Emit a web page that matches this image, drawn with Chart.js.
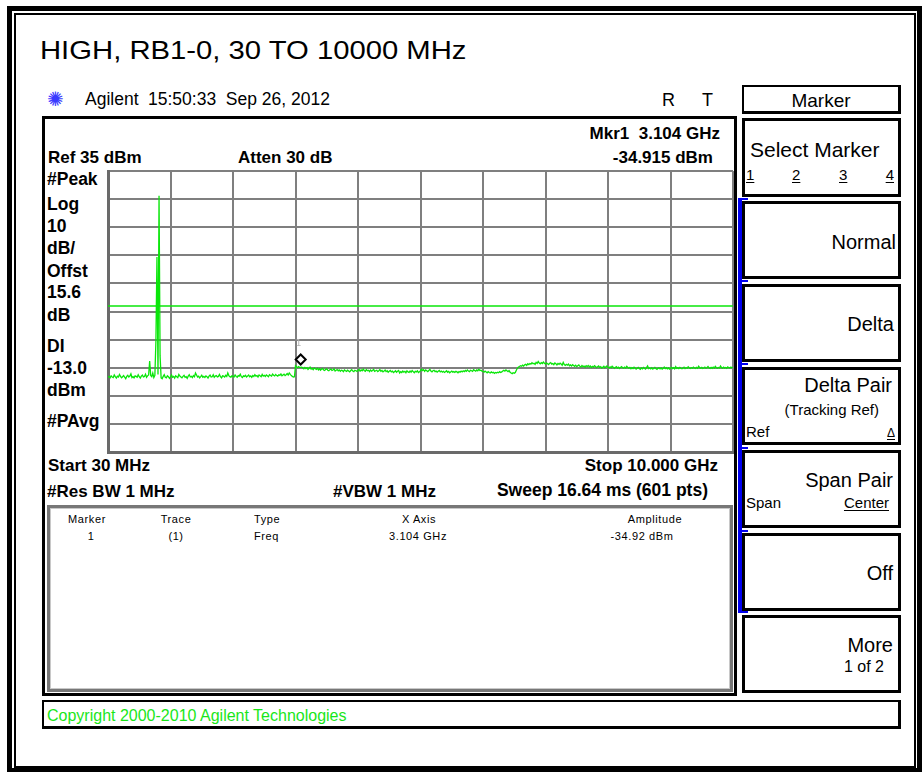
<!DOCTYPE html>
<html>
<head>
<meta charset="utf-8">
<title>HIGH, RB1-0, 30 TO 10000 MHz</title>
<script src="https://cdn.jsdelivr.net/npm/chart.js@4.4.1/dist/chart.umd.min.js"></script>
<style>
  html, body { margin: 0; padding: 0; background: #fff; }
  body { width: 922px; height: 772px; position: relative; overflow: hidden;
         font-family: "Liberation Sans", Arial, sans-serif; color: #000; }
  .box { position: absolute; box-sizing: border-box; }
  .txt { position: absolute; white-space: nowrap; line-height: 1; }
  #frameOuter { left: 7px; top: 6px; width: 915px; height: 766px; border: 5px solid #000; border-bottom-width: 4px; }
  #frameInner { left: 14px; top: 13px; width: 902px; height: 755px; border: 2px solid #000; }
  #screen { left: 42px; top: 116px; width: 695px; height: 580px; border: 3px solid #000; }
  #table { left: 47px; top: 505px; width: 686px; height: 187px; border: 3px solid #777; box-shadow: inset 0 0 0 1px #c8c8c8; }
  #copy { left: 42px; top: 700px; width: 859px; height: 29px; border: 2px solid #000; border-right-width: 3px; border-bottom-width: 3px; }
  .key { left: 742px; width: 159px; border: 3px solid #000; }
  #blueBar { left: 738px; top: 198px; width: 4px; height: 414px; background: #0000f0; }
  .stub { left: 738px; width: 10px; height: 2px; background: #0000f0; }
  #plot { position: absolute; left: 104px; top: 167px; }
  u { text-decoration-thickness: 1px; text-underline-offset: 2px; }
</style>
</head>
<body>
<div class="box" id="frameOuter"></div>
<div class="box" id="frameInner"></div>
<div class="box" id="screen"></div>
<div class="box" id="table"></div>
<div class="box" id="copy"></div>
<div class="box key" style="top:85px;height:29px;border-width:2px 3px 3px 2px"></div>
<div class="box key" style="top:118px;height:79px"></div>
<div class="box key" style="top:201px;height:78px"></div>
<div class="box key" style="top:284px;height:78px"></div>
<div class="box key" style="top:367px;height:78px"></div>
<div class="box key" style="top:450px;height:78px"></div>
<div class="box key" style="top:533px;height:78px"></div>
<div class="box key" style="top:615px;height:78px"></div>
<div class="box" id="blueBar"></div>
<div class="box stub" style="top:198px"></div>
<div class="box stub" style="top:280px"></div>
<div class="box stub" style="top:363px"></div>
<div class="box stub" style="top:447px"></div>
<div class="box stub" style="top:530px"></div>
<div class="box stub" style="top:611px"></div>
<canvas id="plot" width="633" height="289"></canvas>
<div id="labels"></div>

<script>
// Analyzer settings
const START_MHZ = 30;
const STOP_MHZ = 10000;
const REF_DBM = 35;
const DB_PER_DIV = 10;
const DIVISIONS = 10;
const DISPLAY_LINE_DBM = -13;
const MARKER_MHZ = 3104;
const MARKER_DBM = -34.915;

// Trace 1, 601 sweep points (dBm)
const traceDbm = [
  -38.4,-38.1,-38.6,-37.9,-38.3,-38.5,-37.6,-38.2,-38.7,-38.0,-38.3,-37.4,-38.1,-38.6,-38.2,-37.8,-38.4,-38.9,-38.1,-37.7,
  -38.3,-38.0,-37.2,-38.5,-38.2,-38.6,-37.9,-38.1,-38.4,-37.5,-38.2,-38.7,-38.0,-37.6,-38.3,-38.1,-37.3,-38.4,-37.9,-37.6,
  -32.6,-37.8,-38.2,-36.9,-38.5,-37.7,-25.5,4.4,-37.4,26.2,-30.8,-38.6,-38.9,-38.1,-37.5,-38.4,-38.6,-37.9,-38.2,-38.8,
  -38.3,-37.6,-38.4,-38.1,-38.7,-37.9,-38.2,-38.5,-37.4,-38.0,-38.3,-38.6,-38.1,-37.7,-38.4,-38.2,-38.8,-38.0,-37.5,-38.3,
  -38.1,-38.5,-37.8,-38.2,-36.9,-37.6,-38.3,-38.0,-38.6,-38.2,-37.7,-38.4,-38.1,-38.5,-37.9,-38.2,-38.7,-38.0,-37.6,-38.3,
  -38.2,-37.5,-38.4,-38.0,-37.8,-38.3,-38.1,-37.4,-38.2,-38.6,-37.9,-38.0,-38.3,-37.7,-38.1,-36.9,-37.8,-38.2,-38.4,-37.9,
  -38.0,-38.3,-37.6,-38.1,-38.4,-37.8,-38.0,-37.3,-38.2,-38.5,-37.9,-38.1,-37.7,-38.3,-38.0,-37.6,-38.2,-37.9,-38.4,-37.8,
  -38.1,-37.5,-38.0,-37.8,-38.3,-37.6,-37.9,-38.2,-37.4,-38.0,-37.7,-38.1,-37.6,-37.9,-38.2,-37.5,-37.8,-38.0,-37.3,-37.7,
  -37.9,-37.4,-37.8,-38.0,-37.5,-37.7,-37.2,-37.9,-37.6,-37.3,-37.8,-37.5,-37.1,-37.6,-36.9,-37.4,-37.8,-38.1,-38.3,-38.2,
  -34.3,-34.7,-35.0,-34.6,-34.9,-34.9,-34.8,-35.1,-35.4,-34.9,-35.3,-35.0,-35.6,-35.2,-34.8,-35.5,-35.3,-35.7,-35.1,-35.4,
  -35.6,-35.2,-35.8,-35.4,-35.9,-35.5,-35.3,-35.8,-36.0,-35.6,-35.4,-35.9,-36.1,-35.7,-35.5,-36.0,-35.8,-35.4,-36.2,-35.9,
  -35.7,-36.1,-35.8,-36.3,-35.9,-36.0,-36.4,-35.8,-36.1,-36.3,-35.9,-36.2,-36.5,-36.0,-35.7,-36.2,-36.4,-35.9,-36.1,-36.3,
  -36.0,-35.6,-36.2,-35.8,-36.1,-35.5,-36.0,-36.3,-35.7,-36.1,-35.9,-36.4,-35.8,-36.2,-36.0,-35.6,-36.3,-36.1,-35.9,-36.4,
  -36.1,-35.7,-36.3,-36.0,-36.5,-36.2,-35.8,-36.4,-36.1,-36.6,-36.3,-36.0,-36.5,-36.2,-36.7,-36.4,-36.1,-36.6,-36.3,-36.0,
  -36.9,-36.4,-36.7,-36.2,-36.6,-36.3,-36.8,-36.1,-36.5,-36.7,-36.2,-36.6,-36.0,-36.4,-36.8,-36.3,-36.5,-36.1,-36.7,-36.4,
  -36.1,-35.5,-36.0,-35.7,-36.3,-35.8,-36.1,-36.4,-36.0,-35.6,-36.2,-36.5,-36.1,-35.9,-36.4,-36.2,-36.6,-36.3,-36.0,-36.5,
  -36.2,-36.6,-36.3,-36.7,-36.4,-36.1,-36.6,-36.3,-36.8,-36.5,-36.2,-36.6,-36.4,-36.7,-36.3,-36.5,-36.8,-36.4,-36.6,-36.2,
  -36.5,-36.1,-36.4,-36.0,-36.3,-35.8,-36.2,-36.4,-35.9,-36.1,-36.3,-35.7,-36.0,-36.2,-35.8,-36.1,-35.6,-36.0,-35.9,-36.2,
  -36.3,-36.6,-36.2,-36.5,-36.8,-36.4,-36.7,-36.9,-36.5,-36.8,-36.6,-37.0,-36.7,-36.9,-36.6,-36.8,-36.4,-36.7,-36.5,-36.2,
  -35.9,-36.2,-35.8,-36.1,-36.4,-36.0,-36.6,-36.9,-37.1,-36.8,-37.0,-36.7,-35.9,-35.2,-34.8,-34.6,-34.3,-34.5,-34.1,-34.4,
  -34.0,-33.8,-34.2,-33.6,-33.9,-33.5,-33.7,-33.2,-33.6,-33.4,-33.8,-33.1,-33.5,-32.8,-33.3,-33.6,-33.2,-33.5,-33.0,-33.4,
  -33.7,-33.3,-33.6,-33.9,-33.4,-33.2,-33.7,-33.5,-33.9,-33.3,-33.6,-34.0,-33.5,-33.8,-33.4,-33.7,-34.1,-33.1,-33.9,-34.2,
  -33.8,-34.1,-33.7,-34.3,-34.0,-34.4,-33.9,-34.2,-34.5,-34.1,-34.6,-34.3,-34.0,-34.5,-34.7,-34.2,-34.6,-34.4,-34.8,-34.3,
  -34.6,-34.2,-34.7,-34.4,-34.9,-34.5,-34.8,-34.3,-34.6,-35.0,-34.7,-34.4,-34.9,-34.6,-35.1,-34.8,-34.5,-35.0,-34.7,-34.4,
  -34.9,-35.1,-34.7,-35.0,-34.5,-34.8,-35.2,-34.9,-34.6,-35.1,-34.8,-35.3,-34.9,-34.6,-35.0,-35.2,-34.8,-35.1,-34.5,-34.9,
  -35.2,-34.9,-35.4,-35.0,-35.3,-34.8,-35.1,-35.5,-35.2,-34.9,-35.3,-35.6,-35.1,-35.4,-34.9,-35.2,-35.5,-35.0,-34.4,-35.3,
  -35.1,-35.4,-35.0,-35.5,-35.2,-34.9,-35.3,-35.6,-35.2,-35.0,-35.4,-35.1,-35.5,-35.2,-34.8,-35.3,-35.0,-35.4,-35.1,-35.5,
  -35.2,-34.9,-35.3,-35.0,-35.4,-34.6,-35.2,-35.0,-35.3,-34.9,-35.2,-35.4,-35.1,-34.8,-35.3,-35.0,-35.2,-34.7,-35.1,-35.3,
  -35.0,-35.2,-34.8,-35.1,-35.3,-34.9,-35.2,-34.5,-35.0,-35.2,-34.9,-35.3,-35.1,-34.8,-35.2,-35.0,-34.6,-35.1,-35.3,-34.9,
  -35.2,-34.8,-35.1,-34.5,-35.0,-35.2,-34.9,-35.1,-34.4,-35.0,-35.2,-34.8,-35.1,-34.9,-35.2,-34.7,-35.0,-35.1,-34.8,-35.0,
  -34.9
];

const TRACE_GREEN = '#0ae60a';
const GRID_GRAY = '#7f7f7f';

// Sweep points are evenly spaced from start to stop
const sweepStep = (STOP_MHZ - START_MHZ) / (traceDbm.length - 1);
const tracePoints = traceDbm.map((v, i) => ({ x: START_MHZ + i * sweepStep, y: v }));
const bottomDbm = REF_DBM - DB_PER_DIV * DIVISIONS;
const xGrid = Array.from({ length: DIVISIONS + 1 }, (_, k) => START_MHZ + k * (STOP_MHZ - START_MHZ) / DIVISIONS);
const yGrid = Array.from({ length: DIVISIONS + 1 }, (_, k) => bottomDbm + k * DB_PER_DIV);

// Marker 1 diamond sits just above the trace point
const markerPlugin = {
    id: 'marker1',
    afterDatasetsDraw(chart) {
        const { ctx, scales: { x, y } } = chart;
        const px = x.getPixelForValue(MARKER_MHZ);
        const cy = y.getPixelForValue(MARKER_DBM) - 8;
        const s = 5;
        ctx.save();
        ctx.beginPath();
        ctx.moveTo(px, cy - s);
        ctx.lineTo(px + s, cy);
        ctx.lineTo(px, cy + s);
        ctx.lineTo(px - s, cy);
        ctx.closePath();
        ctx.fillStyle = '#fff';
        ctx.fill();
        ctx.lineWidth = 2;
        ctx.strokeStyle = '#000';
        ctx.stroke();
        ctx.fillStyle = '#b4b4b4';
        ctx.font = '9px "DejaVu Sans"';
        ctx.textAlign = 'center';
        ctx.fillText('1', px - 2, cy - s - 8);
        ctx.restore();
    }
};

const axisStyle = {
    type: 'linear',
    ticks: { display: false },
    grid: { color: GRID_GRAY, lineWidth: 2, drawTicks: false },
    border: { display: true, color: '#6a6a6a', width: 3 }
};

new Chart(document.getElementById('plot').getContext('2d'), {
    type: 'line',
    data: {
        datasets: [{
            data: tracePoints,
            borderColor: TRACE_GREEN,
            borderWidth: 1.3,
            pointRadius: 0,
            tension: 0
        }, {
            data: [{ x: START_MHZ, y: DISPLAY_LINE_DBM }, { x: STOP_MHZ, y: DISPLAY_LINE_DBM }],
            borderColor: TRACE_GREEN,
            borderWidth: 1.5,
            pointRadius: 0
        }]
    },
    options: {
        responsive: false,
        animation: false,
        layout: { padding: 4 },
        plugins: { legend: { display: false }, tooltip: { enabled: false } },
        scales: {
            x: { ...axisStyle, min: START_MHZ, max: STOP_MHZ,
                 afterBuildTicks: s => { s.ticks = xGrid.map(v => ({ value: v })); } },
            y: { ...axisStyle, min: bottomDbm, max: REF_DBM,
                 afterBuildTicks: s => { s.ticks = yGrid.map(v => ({ value: v })); } }
        }
    },
    plugins: [markerPlugin]
});

// Screen texts: [html, x, baseline, size, weight, align, color]
const texts = [
    ['HIGH, RB1-0, 30 TO 10000 MHz', 40, 59, 25, 400, 'title'],
    ['\u273A', 47, 106, 20, 400, 'left', '#3a3aff'],
    ['Agilent', 85, 106, 17.5, 400, 'left'],
    ['15:50:33&nbsp; Sep 26, 2012', 148, 106, 17.5, 400, 'left'],
    ['R', 662, 106, 18, 400, 'left'],
    ['T', 702, 106, 18, 400, 'left'],
    ['Mkr1&nbsp; 3.104 GHz', 720, 139, 17, 700, 'right'],
    ['Ref 35 dBm', 48, 163, 17, 700, 'left'],
    ['Atten 30 dB', 238, 163, 17, 700, 'left'],
    ['-34.915 dBm', 713, 163, 17, 700, 'right'],
    ['#Peak', 47, 186, 17.5, 700, 'left'],
    ['Log', 47, 211, 17.5, 700, 'left'],
    ['10', 47, 233, 17.5, 700, 'left'],
    ['dB/', 47, 255, 17.5, 700, 'left'],
    ['Offst', 47, 278, 17.5, 700, 'left'],
    ['15.6', 47, 299, 17.5, 700, 'left'],
    ['dB', 47, 322, 17.5, 700, 'left'],
    ['DI', 47, 353, 17.5, 700, 'left'],
    ['-13.0', 47, 375, 17.5, 700, 'left'],
    ['dBm', 47, 397, 17.5, 700, 'left'],
    ['#PAvg', 47, 428, 17.5, 700, 'left'],
    ['Start 30 MHz', 48, 471, 17, 700, 'left'],
    ['Stop 10.000 GHz', 718, 471, 17, 700, 'right'],
    ['#Res BW 1 MHz', 47, 497, 17, 700, 'left'],
    ['#VBW 1 MHz', 333, 497, 17, 700, 'left'],
    ['Sweep 16.64 ms (601 pts)', 708, 497, 17.5, 700, 'right'],
    ['Marker', 87, 523, 11, 400, 'center'],
    ['Trace', 176, 523, 11, 400, 'center'],
    ['Type', 254, 523, 11, 400, 'left'],
    ['X Axis', 419, 523, 11, 400, 'center'],
    ['Amplitude', 655, 523, 11, 400, 'center'],
    ['1', 91, 540, 11, 400, 'center'],
    ['(1)', 176, 540, 11, 400, 'center'],
    ['Freq', 254, 540, 11, 400, 'left'],
    ['3.104 GHz', 418, 540, 11, 400, 'center'],
    ['-34.92 dBm', 642, 540, 11, 400, 'center'],
    ['Copyright 2000-2010 Agilent Technologies', 47, 722, 16, 400, 'left', '#19e619'],
    ['Marker', 821, 107, 19, 400, 'center'],
    ['Select Marker', 750, 157, 21, 400, 'left'],
    ['<u>1</u>', 746, 180, 15, 400, 'left'],
    ['<u>2</u>', 792, 180, 15, 400, 'left'],
    ['<u>3</u>', 839, 180, 15, 400, 'left'],
    ['<u>4</u>', 894, 180, 15, 400, 'right'],
    ['Normal', 896, 249, 20, 400, 'right'],
    ['Delta', 894, 331, 20, 400, 'right'],
    ['Delta Pair', 892, 392, 20, 400, 'right'],
    ['(Tracking Ref)', 879, 415, 15, 400, 'right'],
    ['Ref', 746, 437, 15, 400, 'left'],
    ['<u>\u0394</u>', 895, 437, 12, 400, 'right'],
    ['Span Pair', 893, 487, 20, 400, 'right'],
    ['Span', 746, 508, 15, 400, 'left'],
    ['<u>Center</u>', 889, 508, 15, 400, 'right'],
    ['Off', 893, 580, 20, 400, 'right'],
    ['More', 893, 652, 20, 400, 'right'],
    ['1 of 2', 884, 673, 16, 400, 'right']
];

const holder = document.getElementById('labels');
texts.forEach(([html, x, base, size, weight, align, color]) => {
    const el = document.createElement('div');
    el.className = 'txt';
    el.innerHTML = html;
    el.style.fontSize = size + 'px';
    el.style.fontWeight = weight;
    el.style.left = x + 'px';
    el.style.top = (base - 0.8465 * size) + 'px';
    if (color) el.style.color = color;
    if (size <= 11) el.style.letterSpacing = '0.6px';
    if (align === 'right') el.style.transform = 'translateX(-100%)';
    if (align === 'center') el.style.transform = 'translateX(-50%)';
    if (align === 'title') { el.style.transform = 'scaleX(1.17)'; el.style.transformOrigin = '0 0'; }
    holder.appendChild(el);
});
</script>
</body>
</html>
